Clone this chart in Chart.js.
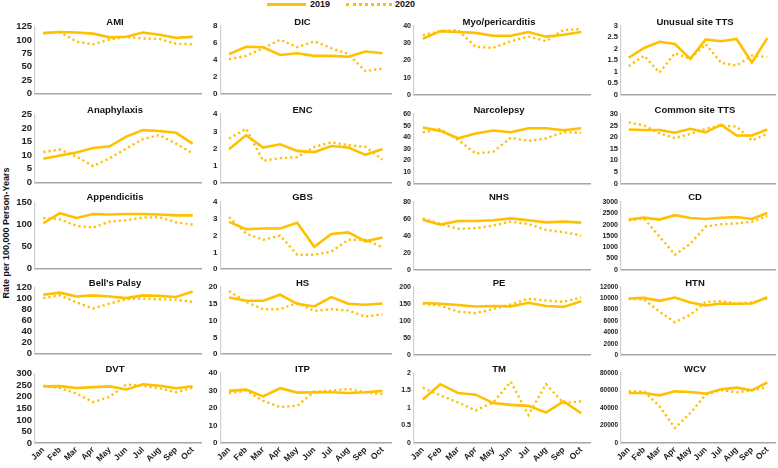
<!DOCTYPE html>
<html><head><meta charset="utf-8">
<script src="https://cdn.jsdelivr.net/npm/chart.js@4.4.0/dist/chart.umd.min.js"></script>
<style>
body{margin:0;width:778px;height:468px;background:#fff;position:relative;overflow:hidden;font-family:"Liberation Sans",Arial,sans-serif;}
canvas{position:absolute;}
.t{position:absolute;font-weight:bold;font-size:9.5px;color:#111;white-space:nowrap;transform:translate(-50%,-50%);line-height:1;}
#ytitle{position:absolute;left:6px;top:233px;transform:translate(-50%,-50%) rotate(-90deg);font-weight:bold;font-size:9px;color:#111;white-space:nowrap;line-height:1;}
.lg{position:absolute;font-weight:bold;font-size:9px;color:#111;line-height:1;}
</style></head><body>
<div style="position:absolute;left:267px;top:3px;width:39px;height:3px;background:#FFC000;"></div>
<div class="lg" style="left:310px;top:0px;">2019</div>
<div style="position:absolute;left:346px;top:3px;width:46px;height:0;border-top:3px dotted #FFC000;"></div>
<div class="lg" style="left:395px;top:0px;">2020</div>
<div id="ytitle">Rate per 100,000 Person-Years</div>
<script>
const months = ["Jan","Feb","Mar","Apr","May","Jun","Jul","Aug","Sep","Oct"];

const ami2019 = [113,115,114,112,105,106,114,110,104,106];
const ami2020 = [113,115,97,92,101,106,103,102,93,92];
const anaph2019 = [8.7,9.9,11,12.7,13.3,16.9,19.3,19,18.3,14.3];
const anaph2020 = [11.2,12.1,9.5,6,8.9,12.5,16,17.5,14.3,10.7];
const append2019 = [103,126,115,124,123,124,124,123,121,121];
const append2020 = [115,112,97,93,107,110,116,117,105,100];
const bells2019 = [107,111,104,106,104,101,106,105,103,113];
const bells2020 = [101,106,93,82,91,99,100,99,98,94];
const dvt2019 = [245,246,238,242,245,232,254,248,237,246];
const dvt2020 = [248,238,214,177,200,253,248,237,220,240];

const dic2019 = [4.7,5.56,5.5,4.6,4.8,4.5,4.5,4.4,5.0,4.8];
const dic2020 = [4.1,4.5,5.4,6.4,5.5,6.2,5.4,4.7,2.7,3.0];
const enc2019 = [1.96,2.77,2.06,2.25,1.87,1.8,2.15,2.06,1.64,1.98];
const enc2020 = [2.58,3.15,1.3,1.45,1.5,2.1,2.36,2.2,2.1,1.36];
const gbs2019 = [2.82,2.38,2.42,2.42,2.76,1.33,2.1,2.19,1.66,1.89];
const gbs2020 = [3.1,2.13,1.75,2.0,0.86,0.86,1.05,1.75,1.75,1.3];
const hs2019 = [16.9,15.9,15.9,17.7,15,14.2,17,15,14.7,15.1];
const hs2020 = [18.8,15.6,13.4,13.4,15.2,12.9,13.4,13,11.2,11.9];
const itp2019 = [29.8,30.5,26.6,31.3,28.8,29,29,28.6,29,29.8];
const itp2020 = [28.4,29.9,24.1,20.5,21.3,29.4,29.9,30.9,29,28];

const myo2019 = [32.6,37,36.5,36,34.3,34.3,36.5,33.8,34.9,36.5];
const myo2020 = [34.7,37,37.7,27.9,27.3,31.2,33.8,31.2,37.7,38.2];
const narco2019 = [48.4,45.5,39.1,43.2,45.8,44.3,47.8,47.8,46.1,47.8];
const narco2020 = [44.3,47,37.7,26.1,27.5,39.7,36.8,39.1,44.3,44];
const nhs2019 = [59.1,53.3,57.6,57.6,58.4,60.7,58.4,56,56.8,55.7];
const nhs2020 = [60.7,54.1,48.3,49.1,52.2,56.8,54.1,47.1,44.4,40.5];
const pe2019 = [152.6,150.7,147,142.3,144,143,153.5,144,141.4,158];
const pe2020 = [150.7,145,127.4,122.8,134.9,148.8,165.6,160,156.3,169.3];
const tm2019 = [1.24,1.68,1.43,1.38,1.14,1.09,1.06,0.87,1.19,0.85];
const tm2020 = [1.58,1.36,1.16,0.93,1.16,1.75,0.8,1.68,1.14,1.19];

const utts2019 = [1.61,2.04,2.31,2.21,1.56,2.41,2.33,2.43,1.4,2.47];
const utts2020 = [1.24,1.7,0.96,1.81,1.57,2.21,1.39,1.27,1.71,1.64];
const ctts2019 = [23.3,23.1,23.1,21.9,23.6,22.1,25.4,20.7,20.7,23.3];
const ctts2020 = [26.4,25,21.7,19.6,21.4,23.6,25,24.6,18.6,21.4];
const cd2019 = [2222,2306,2222,2417,2292,2250,2306,2333,2250,2514];
const cd2020 = [2194,2264,1472,667,1153,1917,2014,2056,2125,2375];
const htn2019 = [9971,10087,9565,10145,9275,8754,9101,9043,9101,10203];
const htn2020 = [9913,9797,7652,5797,7072,9391,9507,9101,9275,9971];
const wcv2019 = [57143,57143,54476,59048,58286,56381,61333,63238,60190,69333];
const wcv2020 = [59048,59048,41905,17143,34286,55238,60571,57905,60190,63619];

const panelTitles = ["AMI","Anaphylaxis","Appendicitis","Bell's Palsy","DVT",
  "DIC","ENC","GBS","HS","ITP",
  "Myo/pericarditis","Narcolepsy","NHS","PE","TM",
  "Unusual site TTS","Common site TTS","CD","HTN","WCV"];
const series2019 = [ami2019,anaph2019,append2019,bells2019,dvt2019,dic2019,enc2019,gbs2019,hs2019,itp2019,
  myo2019,narco2019,nhs2019,pe2019,tm2019,utts2019,ctts2019,cd2019,htn2019,wcv2019];
const series2020 = [ami2020,anaph2020,append2020,bells2020,dvt2020,dic2020,enc2020,gbs2020,hs2020,itp2020,
  myo2020,narco2020,nhs2020,pe2020,tm2020,utts2020,ctts2020,cd2020,htn2020,wcv2020];
const yMax = [125,25,150,120,300, 8,4,4,20,40, 40,60,80,200,2, 3,30,3000,12000,80000];
const yStep = [25,5,50,20,50, 2,1,1,5,10, 10,10,20,50,0.5, 0.5,5,500,2000,20000];

// layout geometry (pixels)
const colLeft = [8,198,392,598];
const axisX = [35,220.5,414,621];
const rightX = [201,390.5,590,775];
const plotTop = [26,114,202,287,373];
const plotBottom = [96,185,271,356,443];
const titleY = [22,110,197,283,369];
const baseFont = [9.5,8,7,7.5];
const GOLD = '#FFC000';
const FONT = '"Liberation Sans", Arial, sans-serif';
const PADT = 8, PADB = 6, PADR = 2;

panelTitles.forEach((title,i)=>{
  const c = Math.floor(i/5), r = i%5;
  const last = r===4;
  const left = colLeft[c];
  const top = plotTop[r]-PADT;
  const bottomEdge = last ? 468 : plotBottom[r]+PADB;
  const w = Math.round(rightX[c]-left+PADR), h = bottomEdge-top;
  const cv = document.createElement('canvas');
  cv.width = w; cv.height = h;
  cv.style.left = left+'px'; cv.style.top = top+'px';
  cv.style.width = w+'px'; cv.style.height = h+'px';
  document.body.appendChild(cv);

  const maxLen = String(yMax[i]).length;
  const fs = maxLen>=5 ? 6.5 : (maxLen===4 ? 7 : baseFont[c]);

  new Chart(cv,{
    type:'line',
    data:{labels:months,datasets:[
      {label:'2019',data:series2019[i],borderColor:GOLD,borderWidth:2.6,pointRadius:0,tension:0,fill:false},
      {label:'2020',data:series2020[i],borderColor:GOLD,borderWidth:2.4,borderDash:[2.2,3],pointRadius:0,tension:0,fill:false}
    ]},
    options:{
      responsive:false, animation:false, events:[],
      layout:{padding:{left:0,right:PADR,top:PADT,bottom:last?0:PADB}},
      plugins:{legend:{display:false},tooltip:{enabled:false},title:{display:false}},
      scales:{
        x:{
          offset:true,
          grid:{display:true,drawOnChartArea:false,drawTicks:false},
          border:{display:true,color:'#a6a6a6',width:1.5},
          ticks:{display:last,autoSkip:false,minRotation:45,maxRotation:45,padding:2,color:'#222',
                 font:{size:8.5,weight:'bold',family:FONT}},
          afterFit:s=>{s.height = last ? (468-plotBottom[r]) : 0;}
        },
        y:{
          min:0,max:yMax[i],
          grid:{display:true,drawOnChartArea:false,drawTicks:false},
          border:{display:true,color:'#d0d0d0',width:1.2},
          ticks:{stepSize:yStep[i],autoSkip:false,padding:3,color:'#222',
                 font:{size:fs,weight:'bold',family:FONT},
                 callback:v=>String(v)},
          afterFit:s=>{s.width = axisX[c]-left;}
        }
      }
    }
  });

  const t = document.createElement('div');
  t.className='t';
  t.textContent = title;
  t.style.left = ((axisX[c]+rightX[c])/2-3)+'px';
  t.style.top = titleY[r]+'px';
  document.body.appendChild(t);
});
</script>
</body></html>
